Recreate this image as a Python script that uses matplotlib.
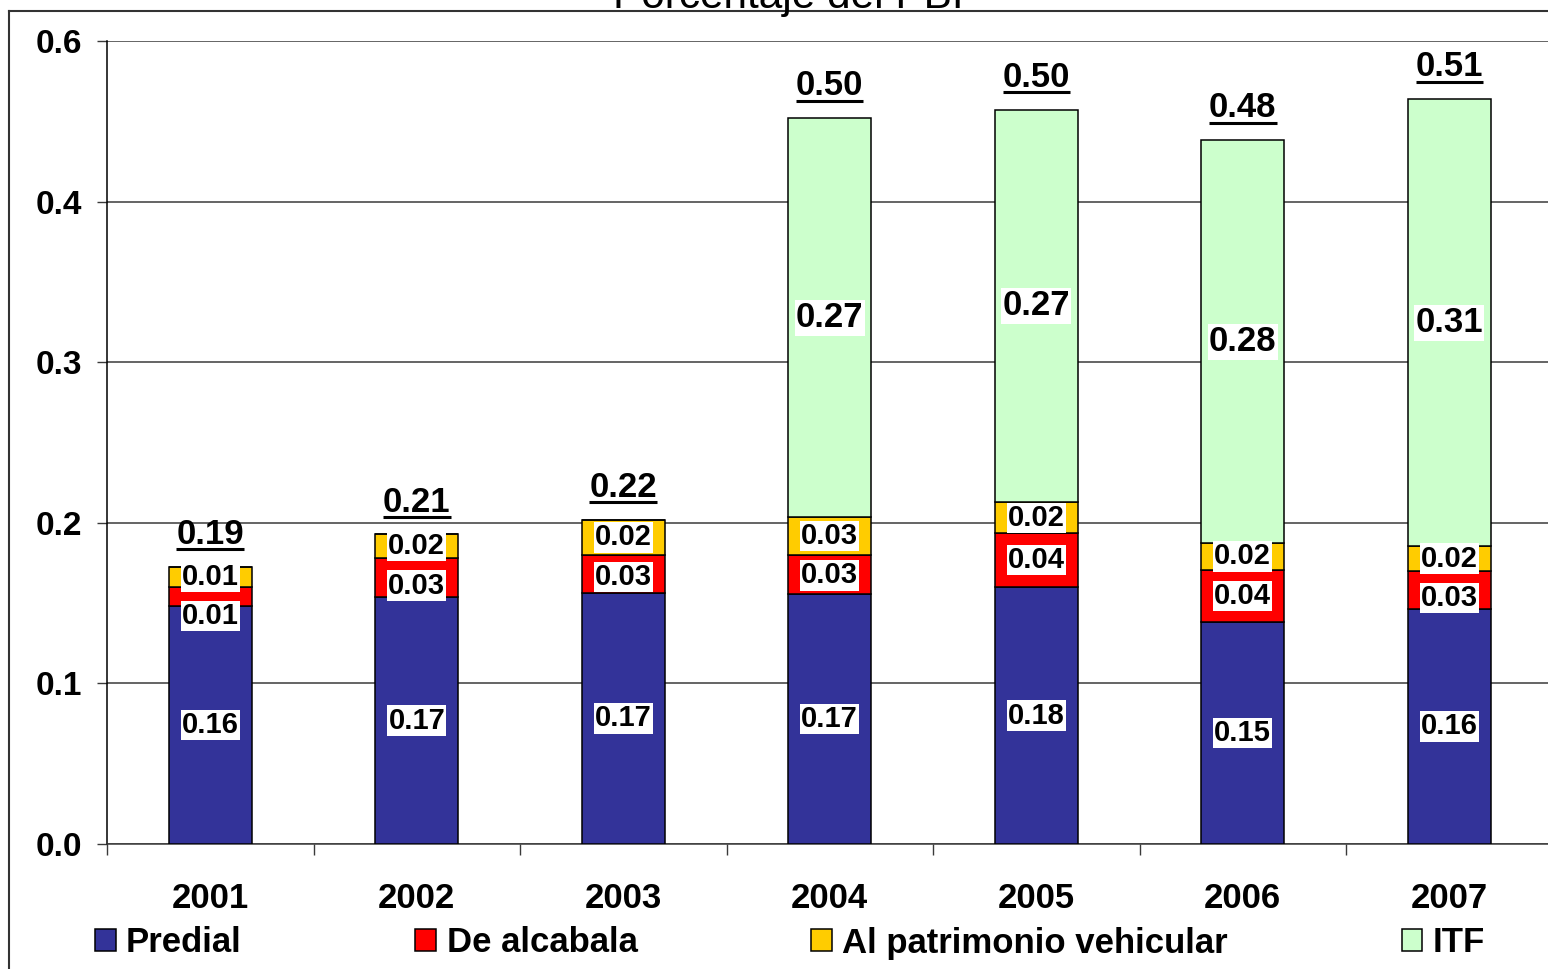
import matplotlib
matplotlib.use("Agg")
import matplotlib.pyplot as plt
import numpy as np
from matplotlib import font_manager
from matplotlib.lines import Line2D
from matplotlib.ticker import FormatStrFormatter

# Recaudación municipal / ITF, % del PBI
years = ["2001", "2002", "2003", "2004", "2005", "2006", "2007"]
predial = [0.163, 0.169, 0.172, 0.171, 0.176, 0.152, 0.161]
alcabala = [0.013, 0.027, 0.026, 0.027, 0.037, 0.036, 0.026]
vehicular = [0.014, 0.016, 0.024, 0.026, 0.021, 0.018, 0.017]
itf = [0.0, 0.0, 0.0, 0.273, 0.269, 0.276, 0.306]
series_names = ["Predial", "De alcabala", "Al patrimonio vehicular", "ITF"]
colors = ["#333399", "#FF0000", "#FFCC00", "#CCFFCC"]
title = "Porcentaje del PBI"


def has_font(name):
    try:
        font_manager.findfont(name, fallback_to_default=False)
        return True
    except ValueError:
        return False


BASE = "Liberation Sans"
if has_font("Liberation Sans Narrow"):
    NARROW, year_size, leg_size = "Liberation Sans Narrow", 28.5, 30
else:
    NARROW, year_size, leg_size = BASE, 25, 25

W, H, DPI = 1548, 969, 100
fig = plt.figure(figsize=(W / DPI, H / DPI), dpi=DPI)
ax = fig.add_axes([107 / W, 1 - 844 / H, 1445.5 / W, 803 / H])

x = np.arange(len(years))
stack = np.array([predial, alcabala, vehicular, itf])
bottoms = np.vstack([np.zeros(len(years)), np.cumsum(stack, axis=0)[:-1]])
totals = stack.sum(axis=0)

bars = []
for vals, bot, col, name in zip(stack, bottoms, colors, series_names):
    b = ax.bar(x, vals, 0.40, bottom=bot, color=col, edgecolor="black",
               linewidth=1.1, label=name, zorder=3)
    bars.append(b)

ax.set_xlim(-0.5, len(years) - 0.5)
ax.set_ylim(0, 0.55)
ax.set_yticks(np.arange(6) * 0.11)
ax.yaxis.set_major_formatter(FormatStrFormatter("%.1f"))
ax.yaxis.grid(True, color="#3a3a3a", linewidth=1.1, zorder=0)
ax.set_axisbelow(True)

for side in ("top", "right"):
    ax.spines[side].set_visible(False)
ax.spines["left"].set_color("black")
ax.spines["left"].set_linewidth(1.1)
ax.spines["bottom"].set_color("#3a3a3a")
ax.spines["bottom"].set_linewidth(1.1)

ax.tick_params(axis="y", length=7.2, width=1.0, color="#3a3a3a", pad=11)
for lab in ax.get_yticklabels():
    lab.set_fontfamily(BASE)
    lab.set_fontweight("bold")
    lab.set_fontsize(24)

# years centred on bars, tick marks between categories
ax.set_xticks(x)
ax.set_xticklabels(years, fontfamily=NARROW, fontweight="bold",
                   fontsize=year_size)
ax.tick_params(axis="x", which="major", length=0, pad=27)
ax.set_xticks(np.arange(len(years) + 1) - 0.5, minor=True)
ax.tick_params(axis="x", which="minor", length=8, width=1.0, color="#3a3a3a")

box = dict(boxstyle="square,pad=0.04", facecolor="white", edgecolor="none")

# segment labels; alcabala label is pushed down when it would hit the vehicular one
min_sep = 0.027
for i in range(len(years)):
    y_pred = bottoms[0][i] + predial[i] / 2
    y_veh = bottoms[2][i] + vehicular[i] / 2
    y_alc = min(bottoms[1][i] + alcabala[i] / 2, y_veh - min_sep)
    for val, yy in ((predial[i], y_pred), (alcabala[i], y_alc), (vehicular[i], y_veh)):
        ax.text(x[i], yy, f"{val:.2f}", ha="center", va="center",
                fontfamily=BASE, fontweight="bold", fontsize=21,
                bbox=box, zorder=5)
    if itf[i] > 0:
        ax.text(x[i], bottoms[3][i] + itf[i] / 2, f"{itf[i]:.2f}",
                ha="center", va="center", fontfamily=BASE, fontweight="bold",
                fontsize=25, bbox=box, zorder=5)

# totals above each bar, underlined
total_texts = []
for i in range(len(years)):
    t = ax.annotate(f"{totals[i]:.2f}", (x[i], totals[i]), xytext=(0, 16.5),
                    textcoords="offset points", ha="center", va="baseline",
                    fontfamily=BASE, fontweight="bold", fontsize=25, zorder=5)
    total_texts.append(t)

leg = fig.legend(handles=bars, labels=series_names, loc="center",
                 bbox_to_anchor=(790 / W, 1 - 943 / H), ncol=4, frameon=False,
                 prop=dict(family=NARROW, weight="bold", size=leg_size),
                 handlelength=0.6, handleheight=0.6, handletextpad=0.3,
                 columnspacing=5.0)

fig.text(788 / W, 1 - 8 / H, title, ha="center", va="baseline",
         fontfamily=BASE, fontsize=30.5)

# outer chart frame (left and top edges)
frame = dict(color="#333333", linewidth=1.5, transform=fig.transFigure)
fig.add_artist(Line2D([9 / W, 9 / W], [0, 1 - 11 / H], **frame))
fig.add_artist(Line2D([9 / W, 1], [1 - 11 / H, 1 - 11 / H], **frame))

fig.canvas.draw()
renderer = fig.canvas.get_renderer()
to_fig = fig.transFigure.inverted()
for i, t in enumerate(total_texts):
    bb = t.get_window_extent(renderer)
    base_y = ax.transData.transform((x[i], totals[i]))[1] + 16.5 * DPI / 72
    uy = base_y - 5.5
    (fx0, fy), (fx1, _) = to_fig.transform([(bb.x0, uy), (bb.x1, uy)])
    fig.add_artist(Line2D([fx0, fx1], [fy, fy], color="black",
                          linewidth=2.2, solid_capstyle="butt"))

fig.savefig("out.png", dpi=DPI)
